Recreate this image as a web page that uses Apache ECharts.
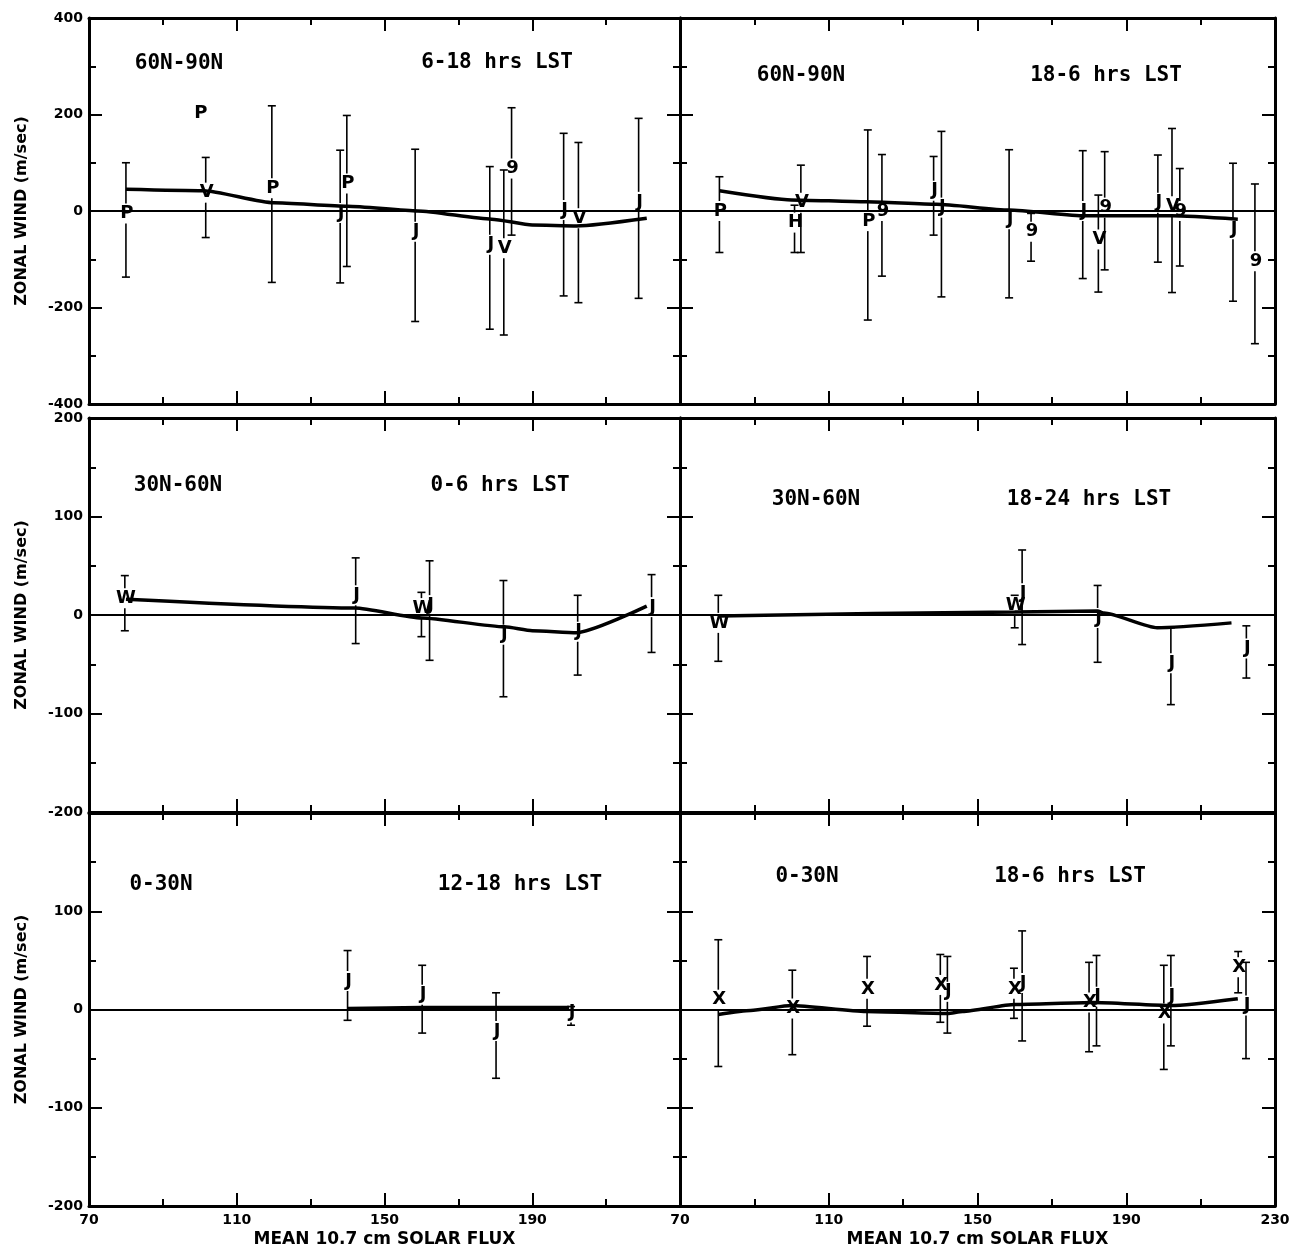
<!DOCTYPE html>
<html><head><meta charset="utf-8">
<script src="https://cdn.jsdelivr.net/npm/echarts@6/dist/echarts.min.js"></script>
<style>html,body{margin:0;padding:0;background:#fff}#c{width:1301px;height:1250px}</style>
</head><body><div id="c"></div>
<script>
// ---------- tick labels ----------
const fluxTicks = [70, 110, 150, 190, 230];
const windTicksTop = [-400, -200, 0, 200, 400];
const windTicksMid = [-200, -100, 0, 100, 200];
const windTicksLow = [-200, -100, 0, 100, 200];

// ---------- panel labels ----------
const latBands = ['60N-90N', '60N-90N', '30N-60N', '30N-60N', '0-30N', '0-30N'];
const timeBands = ['6-18 hrs LST', '18-6 hrs LST', '0-6 hrs LST', '18-24 hrs LST', '12-18 hrs LST', '18-6 hrs LST'];
const yTitle = 'ZONAL WIND (m/sec)';
const xTitle = 'MEAN 10.7 cm SOLAR FLUX';

// ---------- panel 1: 60N-90N, 6-18 hrs LST ----------
const p1Flux   = [80, 100, 101.6, 119.5, 138, 139.8, 158.3, 178.5, 182.3, 184.4, 198.5, 202.5, 218.8];
const p1Symbol = ['P', 'P', 'V', 'P', 'J', 'P', 'J', 'J', 'V', '9', 'J', 'V', 'J'];
const p1Wind   = [-5, 203, 38, 47, -4, 57, -43, -70, -77, 88, 2, -15, 19];
const p1High   = [100, null, 111, 218, 126, 198, 128, 92, 85, 214, 161, 142, 192];
const p1Low    = [-137, null, -55, -148, -149, -115, -229, -245, -257, -50, -176, -190, -181];
const p1CurveX = [80, 101, 120, 140, 159, 179, 190, 202, 221];
const p1CurveY = [45, 42, 17, 10, 0, -17, -29, -31, -15];

// ---------- panel 2: 60N-90N, 18-6 hrs LST ----------
const p2Flux   = [80.6, 100.8, 102.5, 120.5, 124.3, 138.2, 140.3, 158.5, 164.4, 178.3, 184.2, 182.5, 198.5, 202.3, 204.4, 218.7, 224.6];
const p2Symbol = ['P', 'H', 'V', 'P', '9', 'J', 'J', 'J', '9', 'J', '9', 'V', 'J', 'V', '9', 'J', '9'];
const p2Wind   = [0, -24, 17, -21, 0, 42, 7, -17, -43, 0, 7, -59, 17, 10, 0, -38, -104];
const p2High   = [71, 12, 95, 168, 117, 113, 165, 127, -5, 125, 123, 33, 116, 171, 88, 99, 56];
const p2Low    = [-86, -86, -86, -226, -135, -50, -178, -180, -104, -140, -122, -168, -106, -169, -114, -187, -275];
const p2CurveX = [80.6, 100, 120, 139, 158.5, 179, 202.3, 220];
const p2CurveY = [42, 23, 19, 14, 2, -10, -10, -17];

// ---------- panel 3: 30N-60N, 0-6 hrs LST ----------
const p3Flux   = [79.7, 142.2, 160, 162.2, 182.2, 202.3, 222.3];
const p3Symbol = ['W', 'J', 'W', 'J', 'J', 'J', 'J'];
const p3Wind   = [17, 20, 7, 10, -20, -17, 8];
const p3High   = [40, 58, 23, 55, 35, 20, 41];
const p3Low    = [-16, -29, -22, -46, -83, -61, -38];
const p3CurveX = [80, 142, 160, 182.5, 190, 202, 221];
const p3CurveY = [16, 7, -3, -12, -16, -18, 9];

// ---------- panel 4: 30N-60N, 18-24 hrs LST ----------
const p4Flux   = [80.3, 160, 162, 182.3, 202, 222.3];
const p4Symbol = ['W', 'W', 'J', 'J', 'J', 'J'];
const p4Wind   = [-8, 10, 22, -3, -49, -34];
const p4High   = [20, 20, 66, 30, -13, -11];
const p4Low    = [-47, -13, -30, -48, -91, -64];
const p4CurveX = [80.3, 160, 182.3, 184, 198.3, 218.3];
const p4CurveY = [-1, 3, 4, 2, -13, -8];

// ---------- panel 5: 0-30N, 12-18 hrs LST ----------
const p5Flux   = [140, 160.2, 180.2, 200.5];
const p5Symbol = ['J', 'J', 'J', 'J'];
const p5Wind   = [29, 15, -22, -3];
const p5High   = [60, 45, 17, 3];
const p5Low    = [-11, -24, -70, -16];
const p5CurveX = [140, 160, 180, 200];
const p5CurveY = [1, 2, 2, 2];

// ---------- panel 6: 0-30N, 18-6 hrs LST ----------
const p6Flux   = [80.3, 100.2, 120.3, 140, 141.9, 159.8, 162, 180, 182, 200.1, 202, 220.1, 222.2];
const p6Symbol = ['X', 'X', 'X', 'X', 'J', 'X', 'J', 'X', 'J', 'X', 'J', 'X', 'J'];
const p6Wind   = [10, 1, 21, 25, 18, 21, 27, 7, 13, -4, 13, 43, 4];
const p6High   = [71, 40, 54, 56, 54, 42, 80, 48, 55, 45, 55, 59, 48];
const p6Low    = [-58, -46, -17, -13, -24, -9, -32, -43, -37, -61, -37, 17, -50];
const p6CurveX = [80.3, 89, 100, 120, 142, 146, 160, 181, 202, 220];
const p6CurveY = [-5, -1, 4, -2, -4, -2, 5, 7, 4, 11];

// ---------- assemble ----------
const panels = [
  {flux: p1Flux, sym: p1Symbol, wind: p1Wind, hi: p1High, lo: p1Low, cx: p1CurveX, cy: p1CurveY, yTicks: windTicksTop},
  {flux: p2Flux, sym: p2Symbol, wind: p2Wind, hi: p2High, lo: p2Low, cx: p2CurveX, cy: p2CurveY, yTicks: windTicksTop},
  {flux: p3Flux, sym: p3Symbol, wind: p3Wind, hi: p3High, lo: p3Low, cx: p3CurveX, cy: p3CurveY, yTicks: windTicksMid},
  {flux: p4Flux, sym: p4Symbol, wind: p4Wind, hi: p4High, lo: p4Low, cx: p4CurveX, cy: p4CurveY, yTicks: windTicksMid},
  {flux: p5Flux, sym: p5Symbol, wind: p5Wind, hi: p5High, lo: p5Low, cx: p5CurveX, cy: p5CurveY, yTicks: windTicksLow},
  {flux: p6Flux, sym: p6Symbol, wind: p6Wind, hi: p6High, lo: p6Low, cx: p6CurveX, cy: p6CurveY, yTicks: windTicksLow}
];

// layout (pixels)
const colL = {left: 89, width: 591};
const colR = {left: 680, width: 595};
const rows = [{top: 18, height: 386}, {top: 418, height: 394}, {top: 813, height: 393}];
const labelPos = [
  {lat: [179, 64], time: [497, 63]},
  {lat: [801, 76], time: [1106, 76]},
  {lat: [178, 486], time: [500, 486]},
  {lat: [816, 500], time: [1089, 500]},
  {lat: [161, 885], time: [520, 885]},
  {lat: [807, 877], time: [1070, 877]}
];

const FONT = '"DejaVu Sans", sans-serif';
const black = '#000';

const grids = [], xAxes = [], yAxes = [], series = [], graphics = [];

function tickCfg() {
  return {
    axisLine: {show: true, onZero: false, lineStyle: {color: black, width: 3}},
    axisTick: {show: true, inside: true, length: 13, lineStyle: {color: black, width: 2}},
    minorTick: {show: true, splitNumber: 2, length: 7, lineStyle: {color: black, width: 2}},
    splitLine: {show: false},
    minorSplitLine: {show: false}
  };
}

panels.forEach((p, i) => {
  const col = i % 2 === 0 ? colL : colR;
  const row = rows[Math.floor(i / 2)];
  const isLeft = i % 2 === 0;
  const isBottom = i >= 4;
  grids.push({left: col.left, top: row.top, width: col.width, height: row.height,
    containLabel: false, outerBoundsMode: 'none', show: false});

  const xMin = fluxTicks[0], xMax = fluxTicks[fluxTicks.length - 1], xInt = fluxTicks[1] - fluxTicks[0];
  xAxes.push(Object.assign({
    gridIndex: i, type: 'value', position: 'bottom', min: xMin, max: xMax, interval: xInt,
    axisLabel: {show: isBottom, color: black, fontFamily: FONT, fontWeight: 'bold', fontSize: 14, margin: 7,
      showMaxLabel: !isLeft, showMinLabel: true},
    name: isBottom ? xTitle : '', nameLocation: 'middle', nameGap: 25,
    nameTextStyle: {color: black, fontFamily: FONT, fontWeight: 'bold', fontSize: 17}
  }, tickCfg()));
  xAxes.push(Object.assign({
    gridIndex: i, type: 'value', position: 'top', min: xMin, max: xMax, interval: xInt,
    axisLabel: {show: false}
  }, tickCfg()));

  const t = p.yTicks;
  const yMin = t[0], yMax = t[t.length - 1], yInt = t[1] - t[0];
  yAxes.push(Object.assign({
    gridIndex: i, type: 'value', position: 'left', min: yMin, max: yMax, interval: yInt,
    axisLabel: {show: isLeft, color: black, fontFamily: FONT, fontWeight: 'bold', fontSize: 14, margin: 6,
      showMaxLabel: i < 4, showMinLabel: true},
    name: isLeft ? yTitle : '', nameLocation: 'middle', nameGap: 59,
    nameTextStyle: {color: black, fontFamily: FONT, fontWeight: 'bold', fontSize: 16}
  }, tickCfg()));
  yAxes.push(Object.assign({
    gridIndex: i, type: 'value', position: 'right', min: yMin, max: yMax, interval: yInt,
    axisLabel: {show: false}
  }, tickCfg()));

  // mean curve + zero line
  series.push({
    type: 'line', xAxisIndex: 2 * i, yAxisIndex: 2 * i,
    data: p.cx.map((x, k) => [x, p.cy[k]]),
    symbol: 'none', smooth: 0.2, smoothMonotone: 'x',
    lineStyle: {color: black, width: 3.5}, z: 3,
    markLine: {silent: true, symbol: ['none', 'none'], label: {show: false},
      lineStyle: {color: black, width: 2, type: 'solid'}, data: [{yAxis: 0}], animation: false}
  });

  // error bars + letter markers
  series.push({
    type: 'custom', xAxisIndex: 2 * i, yAxisIndex: 2 * i, z: 4,
    data: p.flux.map((x, k) => [x, p.wind[k]]),
    renderItem: function (params, api) {
      const k = params.dataIndex;
      const x = api.value(0), w = api.value(1);
      const c = api.coord([x, w]);
      const children = [];
      const hi = p.hi[k], lo = p.lo[k];
      const gap = 10, cap = 4;
      const ls = {stroke: black, lineWidth: 1.6};
      if (hi !== null && lo !== null) {
        const yHi = api.coord([x, hi])[1];
        const yLo = api.coord([x, lo])[1];
        const px = c[0];
        const upEnd = Math.min(yLo, c[1] - gap);
        if (yHi < upEnd) children.push({type: 'line', shape: {x1: px, y1: yHi, x2: px, y2: upEnd}, style: ls});
        const loStart = Math.max(yHi, c[1] + gap);
        if (loStart < yLo) children.push({type: 'line', shape: {x1: px, y1: loStart, x2: px, y2: yLo}, style: ls});
        children.push({type: 'line', shape: {x1: px - cap, y1: yHi, x2: px + cap, y2: yHi}, style: ls});
        children.push({type: 'line', shape: {x1: px - cap, y1: yLo, x2: px + cap, y2: yLo}, style: ls});
      }
      children.push({type: 'text', style: {text: p.sym[k], x: c[0] + 1, y: c[1], align: 'center', verticalAlign: 'middle',
        font: 'bold 18px ' + FONT, fill: black}});
      return {type: 'group', children: children};
    }
  });

  const lp = labelPos[i];
  graphics.push({type: 'text', x: lp.lat[0], y: lp.lat[1], style: {text: latBands[i], align: 'center', verticalAlign: 'middle',
    font: 'bold 21px "DejaVu Sans Mono", monospace', fill: black}});
  graphics.push({type: 'text', x: lp.time[0], y: lp.time[1], style: {text: timeBands[i], align: 'center', verticalAlign: 'middle',
    font: 'bold 21px "DejaVu Sans Mono", monospace', fill: black}});
});

const chart = echarts.init(document.getElementById('c'), null, {renderer: 'canvas'});
chart.setOption({
  animation: false,
  backgroundColor: '#fff',
  grid: grids,
  xAxis: xAxes,
  yAxis: yAxes,
  series: series,
  graphic: graphics
});
</script>
</body></html>
